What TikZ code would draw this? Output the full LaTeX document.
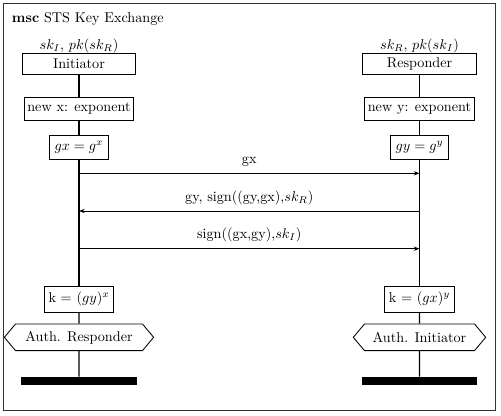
\documentclass[tikz,border=0pt]{standalone}
\usetikzlibrary{shapes.symbols,arrows.meta}
\begin{document}
\begin{tikzpicture}[x=0.704pt,y=-0.704pt,
  box/.style={draw,line width=0.6pt,fill=white,inner sep=0pt},
  hexbox/.style={draw,line width=0.6pt,fill=white,signal,signal to=east and west,signal pointer angle=100,inner sep=0pt,minimum height=18.8pt},
  bar/.style={fill=black,inner sep=0pt,minimum height=5.4pt,minimum width=81pt},
  life/.style={line width=0.75pt},
  msg/.style={line width=0.6pt,-{Stealth[length=4pt,width=3pt]}},
  lbl/.style={anchor=base,inner sep=0pt}]
\useasboundingbox (0,0) rectangle (501,415);
\draw[line width=0.6pt,draw=black!80] (3,3) rectangle (495,410);
\node[anchor=base west,inner sep=0pt] (title) at (11.7,22.5) {\textbf{msc} STS Key Exchange};
% left instance
\node[lbl] (kl0) at (79,49.5) {$sk_I$, $pk(sk_R)$};
\node[box,minimum width=79.6pt,minimum height=14.6pt] (init) at (79,63.7) {Initiator};
\node[box,minimum width=77pt,minimum height=16.4pt] (newx) at (79,109) {new x: exponent};
\node[box,minimum width=41.5pt,minimum height=17.1pt] (gx) at (79,147.2) {$gx = g^x$};
\node[box,minimum width=49pt,minimum height=18.8pt] (kl) at (79,299.3) {k = $(gy)^x$};
\node[hexbox,minimum width=105.1pt] (hexl) at (79,337.3) {Auth. Responder};
\node[bar] (barl) at (79,380.8) {};
% right instance
\node[lbl] (kr0) at (419.5,49.5) {$sk_R$, $pk(sk_I)$};
\node[box,minimum width=80.3pt,minimum height=14.6pt] (resp) at (419.5,63.7) {Responder};
\node[box,minimum width=77pt,minimum height=16.4pt] (newy) at (419.5,109) {new y: exponent};
\node[box,minimum width=40.5pt,minimum height=17.1pt] (gy) at (419.5,147.2) {$gy = g^y$};
\node[box,minimum width=49pt,minimum height=18.8pt] (kr) at (419.5,299.3) {k = $(gx)^y$};
\node[hexbox,minimum width=93.2pt] (hexr) at (419.5,337.3) {Auth. Initiator};
\node[bar] (barr) at (419.5,380.8) {};
% lifelines
\draw[life] (init) -- (newx); \draw[life] (newx) -- (gx); \draw[life] (gx) -- (kl);
\draw[life] (kl) -- (hexl); \draw[life] (hexl) -- (barl);
\draw[life] (resp) -- (newy); \draw[life] (newy) -- (gy); \draw[life] (gy) -- (kr);
\draw[life] (kr) -- (hexr); \draw[life] (hexr) -- (barr);
% messages
\coordinate (l1) at (79,173.3); \coordinate (r1) at (419.5,173.3);
\coordinate (l2) at (79,211); \coordinate (r2) at (419.5,211);
\coordinate (l3) at (79,248.7); \coordinate (r3) at (419.5,248.7);
\draw[msg] (l1) -- (r1) node[lbl,pos=0.5,yshift=7pt] (m1) {gx};
\draw[msg] (r2) -- (l2) node[lbl,pos=0.5,yshift=7pt] (m2) {gy, sign((gy,gx),$sk_R$)};
\draw[msg] (l3) -- (r3) node[lbl,pos=0.5,yshift=7pt] (m3) {sign((gx,gy),$sk_I$)};
\end{tikzpicture}
\end{document}
